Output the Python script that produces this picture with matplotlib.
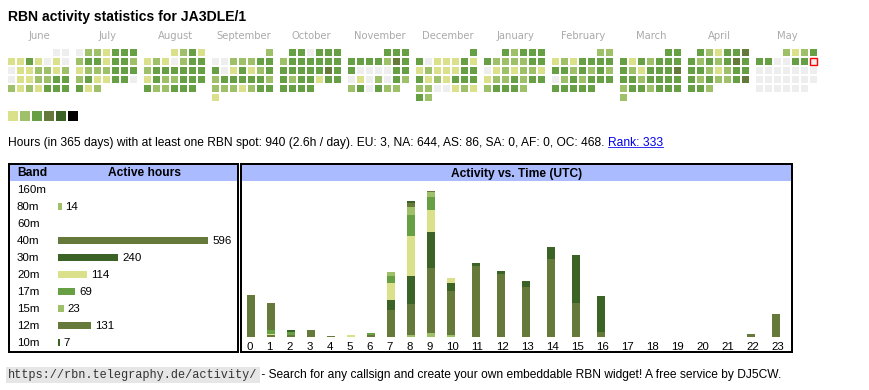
import datetime as dt
import numpy as np
import matplotlib
matplotlib.use('Agg')
import matplotlib.pyplot as plt
from matplotlib.patches import Rectangle
from matplotlib.transforms import blended_transform_factory

W, H = 870, 390
PT = 0.72  # px -> pt at 100 dpi
SANS = 'Liberation Sans'

# level colours: none, 1..5, max
palette = ['#eeeeee', '#dbe08b', '#9dc068', '#67a044', '#65793a', '#3b6325', '#000000']

# ---- calendar data: one digit per day (palette level) ----
months = ['June', 'July', 'August', 'September', 'October', 'November',
          'December', 'January', 'February', 'March', 'April', 'May']
month_start = [(2024, 6), (2024, 7), (2024, 8), (2024, 9), (2024, 10), (2024, 11),
               (2024, 12), (2025, 1), (2025, 2), (2025, 3), (2025, 4), (2025, 5)]
day_levels = [
    '00' '1131010' '0112212' '0112233' '2121333',
    '0221333' '2331332' '1222333' '2311330' '312',
    '1231' '1210233' '2333333' '1322333' '322333',
    '2' '0022233' '3013123' '2333332' '2221233' '1',
    '330333' '2333333' '3333343' '3233133' '3333',
    '333' '3333243' '3000033' '0102032' '230322',
    '3' '3011131' '1211133' '3121333' '2200121' '32',
    '32333' '3222233' '0121221' '1223233' '23332',
    '22' '1213333' '3323232' '0232333' '33333',
    '33' '3132333' '3213334' '3323333' '2332333' '2',
    '321334' '3232343' '3321233' '3232234' '332',
    '2123' '3300330' '0000000' '0000000' '000000',
]
today = dt.date(2025, 5, 11)

# ---- band table ----
bands = ['160m', '80m', '60m', '40m', '30m', '20m', '17m', '15m', '12m', '10m']
band_hours = [0, 14, 0, 596, 240, 114, 69, 23, 131, 7]
band_colors = [palette[1], palette[2], palette[3], palette[4], palette[5],
               palette[1], palette[3], palette[2], palette[4], palette[5]]

# ---- activity vs time (UTC), hours per band ----
hours = list(range(24))
act = {
    '80m': [0, 0, 0, 0, 0, 0, 0, 0, 2, 5, 2, 0, 0, 0, 0, 0, 0, 0, 0, 0, 0, 0, 0, 0],
    '40m': [0, 2, 2, 0, 1, 0, 2, 34, 39, 81, 55, 89, 79, 62, 97, 42, 6, 0, 0, 0, 0, 0, 0, 0],
    '30m': [0, 0, 0, 0, 0, 0, 0, 12, 35, 45, 11, 3, 4, 8, 16, 61, 45, 0, 0, 0, 0, 0, 0, 0],
    '20m': [0, 2, 0, 0, 0, 2, 0, 21, 50, 28, 6, 0, 0, 0, 0, 0, 0, 0, 0, 0, 0, 0, 0, 0],
    '17m': [0, 5, 4, 0, 0, 0, 3, 9, 27, 16, 0, 0, 0, 0, 0, 0, 0, 0, 0, 0, 0, 0, 0, 0],
    '15m': [0, 0, 0, 0, 0, 0, 0, 5, 10, 6, 0, 0, 0, 0, 0, 0, 0, 0, 0, 0, 0, 0, 0, 0],
    '12m': [53, 34, 0, 9, 0, 0, 0, 0, 4, 1, 0, 0, 0, 0, 0, 0, 0, 0, 0, 0, 0, 0, 4, 29],
    '10m': [0, 0, 3, 0, 0, 0, 0, 0, 3, 0, 0, 0, 0, 0, 0, 0, 0, 0, 0, 0, 0, 0, 0, 0],
}

title = 'RBN activity statistics for JA3DLE/1'
stats = ('Hours (in 365 days) with at least one RBN spot: 940 (2.6h / day). '
         'EU: 3, NA: 644, AS: 86, SA: 0, AF: 0, OC: 468.')
rank = 'Rank: 333'
url = 'https://rbn.telegraphy.de/activity/'
footer = ' - Search for any callsign and create your own embeddable RBN widget! A free service by DJ5CW.'


def fbox(x0, y0, x1, y1):
    return [x0 / W, 1 - y1 / H, (x1 - x0) / W, (y1 - y0) / H]


fig = plt.figure(figsize=(W / 100, H / 100), dpi=100)
ax0 = fig.add_axes([0, 0, 1, 1])
ax0.set_xlim(0, W)
ax0.set_ylim(H, 0)
ax0.axis('off')

ax0.text(8, 21, title, fontsize=14 * PT, fontweight='bold', family=SANS, va='baseline')

# calendar
for m, (name, (yr, mo), levels) in enumerate(zip(months, month_start, day_levels)):
    bx = 8 + 68 * m
    ax0.text(bx + 31.5, 36, name, ha='center', va='center', color='#aaaaaa',
             family='DejaVu Sans', fontsize=10 * PT)
    first = dt.date(yr, mo, 1)
    for d, lv in enumerate(levels):
        pos = first.weekday() + d
        x = bx + 9 * (pos % 7)
        y = 49 + 9 * (pos // 7)
        day = first + dt.timedelta(days=d)
        ec = 'red' if day == today else 'none'
        ax0.add_patch(Rectangle((x, y), 7, 7, facecolor=palette[int(lv)],
                                edgecolor=ec, linewidth=1.4 * PT))

# level legend
for i, c in enumerate(palette[1:]):
    ax0.add_patch(Rectangle((8 + 12 * i, 111), 10, 10, facecolor=c, edgecolor='none'))

# stats line with link
t = ax0.text(8, 146, stats, fontsize=12 * PT, family=SANS, va='baseline')
link = ax0.annotate(rank, xy=(1, 0), xycoords=t, xytext=(3, 0), textcoords='offset pixels',
                    va='bottom', ha='left', fontsize=12 * PT, family=SANS, color='#0000ee')

# boxes
for x0, x1, label, lx in [(9, 238, None, None), (241, 792, 'Activity vs. Time (UTC)', 516.5)]:
    ax0.add_patch(Rectangle((x0, 164), x1 - x0, 188, facecolor='white',
                            edgecolor='black', linewidth=2 * PT, zorder=1))
    ax0.add_patch(Rectangle((x0 + 1, 165), x1 - x0 - 2, 16, facecolor='#aabbff',
                            edgecolor='none', zorder=2))
    if label:
        ax0.text(lx, 173.5, label, ha='center', va='center', fontweight='bold',
                 fontsize=12 * PT, family=SANS, zorder=3)
ax0.text(17, 173.5, 'Band', va='center', fontweight='bold', fontsize=12 * PT, family=SANS, zorder=3)
ax0.text(145, 173.5, 'Active hours', ha='center', va='center', fontweight='bold',
         fontsize=12 * PT, family=SANS, zorder=3)

# band bars
ax_b = fig.add_axes(fbox(58, 181, 236, 350))
px_per_hour = 150 / 596
ax_b.set_xlim(0, 178 / px_per_hour)
ax_b.set_ylim((350 - 189.3) / 17, (181 - 189.3) / 17)
ax_b.axis('off')
ax_b.patch.set_alpha(0)
ax_b.barh(range(len(bands)), band_hours, height=7 / 17, color=band_colors, linewidth=0)
lab_tr = blended_transform_factory(ax0.transData, ax_b.transData)
for i, (b, v) in enumerate(zip(bands, band_hours)):
    ax_b.text(17, i, b, transform=lab_tr, va='center_baseline', fontsize=11.5 * PT, family=SANS)
    if v:
        ax_b.annotate(str(v), xy=(v, i), xytext=(4, 0), textcoords='offset pixels',
                      va='center_baseline', fontsize=11.5 * PT, family=SANS)

# activity vs time: table columns are wider for 2-digit hours
ax_h = fig.add_axes(fbox(242, 182, 791, 337))
px_per_unit = 0.8
ax_h.set_xlim(242, 791)
ax_h.set_ylim(0, (337 - 182) / px_per_unit)
ax_h.axis('off')
ax_h.patch.set_alpha(0)
widths = np.array([20 if h < 10 else 25 for h in hours])
lefts = 247 + np.concatenate([[0], np.cumsum(widths)[:-1]])
bottom = np.zeros(len(hours))
for b, c in zip(bands, band_colors):
    if b not in act:
        continue
    vals = np.array(act[b])
    ax_h.bar(lefts, vals, width=8, bottom=bottom, align='edge', color=c, linewidth=0)
    bottom += vals
for h, x in zip(hours, lefts):
    ax0.text(x - 0.5, 346, str(h), ha='left', va='center_baseline', fontsize=11.5 * PT, family=SANS)

# footer
u = ax0.text(8, 378, url, family='Liberation Mono', fontsize=11.9 * PT, va='baseline', color='#333333',
             bbox=dict(facecolor='#e6e6e6', edgecolor='none', pad=1.5))
ax0.annotate(footer, xy=(1, 0), xycoords=u, xytext=(1, 0), textcoords='offset pixels',
             va='bottom', ha='left', fontsize=12 * PT, family=SANS)

# underline the link
fig.canvas.draw()
bb = link.get_window_extent()
inv = ax0.transData.inverted()
(lx0, ly0), (lx1, ly1) = inv.transform([[bb.x0, bb.y0], [bb.x1, bb.y1]])
ax0.plot([lx0, lx1], [ly0 - 2, ly0 - 2], color='#0000ee', linewidth=0.8 * PT)

fig.savefig('out.png', dpi=100)
